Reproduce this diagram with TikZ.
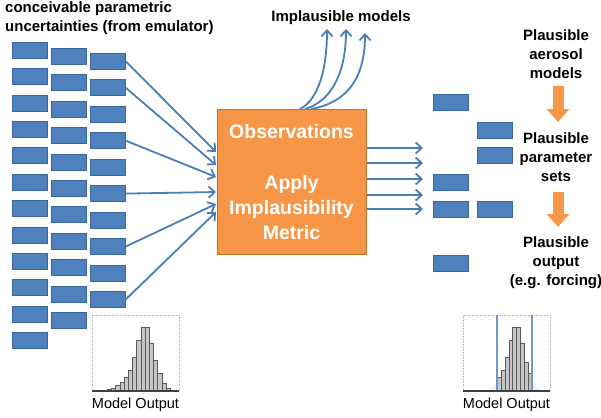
\documentclass[tikz,border=0pt]{standalone}
\usepackage{fontspec}
\setmainfont{Liberation Sans}
\usetikzlibrary{arrows.meta}
\definecolor{rblue}{HTML}{4F81BD}
\definecolor{rblueD}{HTML}{3A679E}
\definecolor{ablue}{HTML}{4A7EBB}
\definecolor{rorange}{HTML}{F79646}
\definecolor{rorangeD}{HTML}{C0732F}
\begin{document}
\begin{tikzpicture}[x=1pt,y=-1pt,
  pbox/.style={draw=rblueD,fill=rblue,line width=0.8pt,minimum width=35pt,minimum height=16pt,inner sep=0pt,anchor=north west},
  conn/.style={draw=ablue,line width=1.8pt,-{Straight Barb[length=6pt,width=11pt]}},
  lbl/.style={font=\bfseries\fontsize{15}{19}\selectfont,align=center,inner sep=0pt},
  boxtxt/.style={font=\bfseries\fontsize{19.5}{25}\selectfont,text=white,align=center,inner sep=0pt},
  otxt/.style={font=\fontsize{14.5}{17}\selectfont,inner sep=0pt},
  oarrow/.style={draw=rorange,line width=11pt,-{Triangle[length=13pt,width=22pt]}},
  hbar/.style={fill=gray!45,draw=black!65,line width=0.4pt},
  hfaint/.style={fill=gray!12,draw=none},
  hframe/.style={draw=gray!55,densely dotted,line width=0.6pt}
]
\useasboundingbox (0,0) rectangle (601,417);

% title
\node[lbl,align=left,anchor=west] (title) at (5,18.5) {conceivable parametric\\uncertainties (from emulator)};

% left parameter boxes
\foreach \i in {0,...,11} { \node[pbox] (ca-\i) at (12,{42+26.36*\i}) {}; }
\foreach \i in {0,...,10} { \node[pbox] (cb-\i) at (51,{48+26.4*\i}) {}; }
\foreach \i in {0,...,9}  { \node[pbox] (cc-\i) at (90,{53+26.44*\i}) {}; }

% central box
\node[draw=rorangeD,fill=rorange,line width=1pt,minimum width=149pt,minimum height=145pt,inner sep=0pt,anchor=north west] (obs) at (217,109) {};
\node[boxtxt] (t1) at (291.5,132) {Observations};
\node[boxtxt] (t2) at (291.5,208) {Apply\\Implausibility\\Metric};

% incoming arrows
\coordinate (in0) at (216,152);
\coordinate (in1) at (216,165);
\coordinate (in3) at (216,177);
\coordinate (in5) at (216,192);
\coordinate (in7) at (216,204);
\coordinate (in9) at (216,212);
\foreach \k in {0,1,3,5,7,9} { \draw[conn] (cc-\k.east) -- (in\k); }

% implausible models
\node[lbl] (imp) at (341,18) {Implausible models};
\coordinate (s1) at (300,109);
\coordinate (s2) at (305,109);
\coordinate (s3) at (311,109);
\coordinate (e1) at (327,29);
\coordinate (e2) at (346,29);
\coordinate (e3) at (365,33);
\draw[conn] (s1) .. controls (318,100) and (327,70) .. (e1);
\draw[conn] (s2) .. controls (332,101) and (346,72) .. (e2);
\draw[conn] (s3) .. controls (350,102) and (365,75) .. (e3);

% outgoing arrows
\foreach \y [count=\j] in {148,163,179,195,209} {
  \coordinate (r\j) at (423,\y);
  \draw[conn] (r\j -| obs.east) -- (r\j);
}

% right plausible boxes
\node[pbox] (pa1) at (433,94) {};
\node[pbox] (pb1) at (477,122) {};
\node[pbox] (pb2) at (477,147) {};
\node[pbox] (pa2) at (433,174) {};
\node[pbox] (pa3) at (433,201) {};
\node[pbox] (pb3) at (477,201) {};
\node[pbox] (pa4) at (433,255) {};

% right text column
\node[lbl] (pam) at (556,54) {Plausible\\aerosol\\models};
\node[lbl] (pps) at (556,157) {Plausible\\parameter\\sets};
\node[lbl] (ppo) at (556,263) {Plausible\\output\\(e.g. forcing)};
\coordinate (oa1) at (558,86);
\coordinate (ob1) at (558,122);
\coordinate (oa2) at (558,192);
\coordinate (ob2) at (558,227);
\draw[oarrow] (oa1) -- (ob1);
\draw[oarrow] (oa2) -- (ob2);

% left histogram
\fill[white] (92,315) rectangle (179,391);
\foreach \h [count=\i from 0] in {1,2,3.3,6,9,14,21,34,51,64,64,48,31,18,8,3,1} {
  \filldraw[hbar] ({103+4.2*\i},391) rectangle ({103+4.2*(\i+1)},{391-\h});
}
\draw[hframe] (92,315) rectangle (179,391);
\draw[black!75,line width=1.2pt] (92,391) -- (179,391);
\node[otxt] (mo1) at (135.5,405) {Model Output};

% right histogram
\foreach \h [count=\i from 0] in {1.5,3,6} {
  \fill[hfaint] ({485.3+3.9*\i},391) rectangle ({485.3+3.9*(\i+1)},{391-\h});
}
\foreach \h [count=\i from 0] in {8,3,1} {
  \fill[hfaint] ({532+3.9*\i},391) rectangle ({532+3.9*(\i+1)},{391-\h});
}
\foreach \h [count=\i from 0] in {14,21,34,51,64,64,48,29,18} {
  \filldraw[hbar] ({497+3.9*\i},391) rectangle ({497+3.9*(\i+1)},{391-\h});
}
\draw[hframe] (463,315) rectangle (550,391);
\draw[ablue!80,line width=1.3pt] (497,315) -- (497,391);
\draw[ablue!80,line width=1.3pt] (532,315) -- (532,391);
\draw[black!75,line width=1.2pt] (463,391) -- (550,391);
\node[otxt] (mo2) at (506.5,405) {Model Output};
\end{tikzpicture}
\end{document}
